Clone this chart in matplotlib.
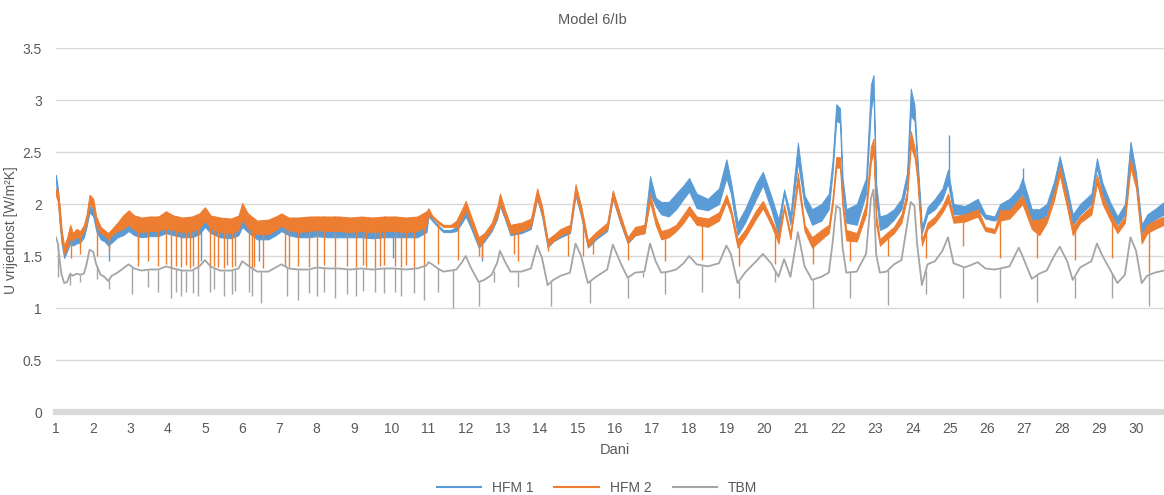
import matplotlib
matplotlib.use("Agg")
import matplotlib.pyplot as plt
from matplotlib.lines import Line2D
import numpy as np

plt.rcParams['font.family'] = ['Liberation Sans', 'DejaVu Sans']

# sample days (x axis "Dani")
days = [1.00, 1.05, 1.10, 1.15, 1.22, 1.30, 1.38, 1.45, 1.55, 1.65,
        1.75, 1.82, 1.90, 2.00, 2.08, 2.20, 2.30, 2.40, 2.50, 2.65,
        2.80, 2.95, 3.10, 3.30, 3.50, 3.75, 3.95, 4.15, 4.40, 4.65,
        4.85, 5.00, 5.15, 5.40, 5.70, 5.90, 6.00, 6.15, 6.40, 6.70,
        6.90, 7.05, 7.25, 7.50, 7.80, 8.00, 8.30, 8.60, 8.90, 9.20,
        9.50, 9.80, 10.10, 10.40, 10.70, 10.95, 11.00, 11.10, 11.25, 11.40,
        11.60, 11.75, 11.90, 12.00, 12.15, 12.35, 12.50, 12.70, 12.85, 12.92,
        13.05, 13.20, 13.50, 13.75, 13.92, 14.05, 14.20, 14.35, 14.55, 14.80,
        14.95, 15.10, 15.28, 15.50, 15.80, 15.95, 16.15, 16.35, 16.55, 16.80,
        16.95, 17.10, 17.25, 17.45, 17.65, 17.85, 18.00, 18.20, 18.50, 18.80,
        19.00, 19.12, 19.30, 19.50, 19.80, 19.98, 20.20, 20.40, 20.55, 20.72,
        20.92, 21.10, 21.30, 21.55, 21.75, 21.85, 21.95, 22.05, 22.12, 22.22,
        22.50, 22.75, 22.88, 22.95, 23.02, 23.12, 23.30, 23.50, 23.70, 23.85,
        23.95, 24.05, 24.12, 24.25, 24.40, 24.60, 24.80, 24.95, 25.10, 25.40,
        25.75, 25.95, 26.20, 26.35, 26.60, 26.85, 26.95, 27.20, 27.40, 27.60,
        27.80, 27.95, 28.15, 28.30, 28.50, 28.80, 28.95, 29.10, 29.30, 29.50,
        29.70, 29.85, 30.00, 30.15, 30.30, 30.50, 30.75]

# HFM 1 noise band (low / high)
hfm1_lo = [2.20, 2.05, 1.80, 1.62, 1.48, 1.55, 1.62, 1.60, 1.62, 1.63,
           1.68, 1.78, 1.92, 1.88, 1.74, 1.66, 1.64, 1.60, 1.63, 1.68,
           1.70, 1.74, 1.70, 1.68, 1.69, 1.69, 1.72, 1.70, 1.68, 1.68,
           1.71, 1.78, 1.72, 1.68, 1.67, 1.70, 1.78, 1.73, 1.66, 1.66,
           1.70, 1.74, 1.70, 1.68, 1.68, 1.69, 1.68, 1.68, 1.68, 1.68,
           1.67, 1.68, 1.68, 1.68, 1.68, 1.73, 1.88, 1.84, 1.78, 1.73,
           1.73, 1.74, 1.82, 1.88, 1.76, 1.58, 1.64, 1.74, 1.86, 1.98,
           1.86, 1.70, 1.72, 1.76, 2.05, 1.88, 1.58, 1.64, 1.68, 1.72,
           2.08, 1.88, 1.58, 1.66, 1.74, 2.05, 1.82, 1.62, 1.70, 1.72,
           2.10, 1.98, 1.90, 1.88, 1.95, 2.05, 2.12, 1.96, 1.94, 2.00,
           2.25, 2.10, 1.70, 1.82, 2.05, 2.18, 1.95, 1.70, 2.10, 1.80,
           2.40, 1.98, 1.80, 1.84, 1.95, 2.30, 2.80, 2.78, 2.10, 1.82,
           1.80, 2.10, 2.90, 3.05, 2.05, 1.75, 1.78, 1.85, 1.95, 2.20,
           2.85, 2.80, 2.40, 1.72, 1.90, 1.95, 2.05, 2.20, 1.90, 1.90,
           1.95, 1.86, 1.84, 1.88, 1.94, 2.05, 2.10, 1.85, 1.80, 1.90,
           2.12, 2.35, 2.05, 1.80, 1.90, 2.00, 2.35, 2.10, 1.92, 1.80,
           1.90, 2.45, 2.20, 1.72, 1.80, 1.85, 1.90]
hfm1_hi = [2.28, 2.15, 1.95, 1.72, 1.55, 1.62, 1.72, 1.66, 1.68, 1.68,
           1.75, 1.85, 1.98, 1.95, 1.80, 1.72, 1.70, 1.66, 1.70, 1.74,
           1.78, 1.82, 1.78, 1.75, 1.76, 1.76, 1.80, 1.77, 1.75, 1.76,
           1.79, 1.88, 1.80, 1.75, 1.74, 1.78, 1.88, 1.82, 1.74, 1.74,
           1.78, 1.82, 1.77, 1.75, 1.76, 1.77, 1.75, 1.76, 1.75, 1.76,
           1.75, 1.76, 1.76, 1.75, 1.76, 1.82, 1.93, 1.86, 1.80, 1.75,
           1.75, 1.78, 1.90, 1.95, 1.82, 1.63, 1.70, 1.80, 1.94, 2.06,
           1.92, 1.76, 1.78, 1.82, 2.12, 1.95, 1.64, 1.68, 1.74, 1.78,
           2.15, 1.95, 1.62, 1.70, 1.80, 2.12, 1.88, 1.66, 1.76, 1.80,
           2.27, 2.06, 2.02, 2.02, 2.10, 2.18, 2.25, 2.10, 2.05, 2.15,
           2.43, 2.22, 1.82, 1.95, 2.20, 2.31, 2.08, 1.85, 2.14, 1.90,
           2.59, 2.08, 1.95, 2.00, 2.10, 2.42, 2.96, 2.92, 2.25, 1.95,
           2.00, 2.25, 3.15, 3.24, 2.20, 1.88, 1.90, 1.95, 2.05, 2.30,
           3.11, 2.95, 2.50, 1.78, 1.97, 2.05, 2.15, 2.33, 2.00, 1.98,
           2.05, 1.90, 1.88, 2.00, 2.05, 2.15, 2.25, 1.95, 1.95, 2.00,
           2.22, 2.46, 2.15, 1.90, 2.00, 2.10, 2.44, 2.20, 2.02, 1.88,
           2.00, 2.60, 2.30, 1.80, 1.90, 1.95, 2.02]

# HFM 2 noise band (low / high)
hfm2_lo = [2.08, 2.02, 1.82, 1.65, 1.52, 1.58, 1.68, 1.65, 1.68, 1.68,
           1.74, 1.82, 2.00, 1.96, 1.80, 1.72, 1.70, 1.66, 1.70, 1.74,
           1.76, 1.80, 1.75, 1.73, 1.74, 1.74, 1.77, 1.75, 1.73, 1.74,
           1.77, 1.84, 1.77, 1.73, 1.72, 1.75, 1.85, 1.77, 1.71, 1.71,
           1.75, 1.79, 1.75, 1.73, 1.74, 1.75, 1.74, 1.74, 1.73, 1.74,
           1.73, 1.74, 1.74, 1.73, 1.74, 1.79, 1.90, 1.87, 1.82, 1.78,
           1.78, 1.78, 1.86, 1.94, 1.80, 1.60, 1.66, 1.76, 1.88, 2.00,
           1.88, 1.72, 1.74, 1.78, 2.06, 1.90, 1.60, 1.64, 1.70, 1.74,
           2.10, 1.90, 1.59, 1.68, 1.76, 2.06, 1.83, 1.63, 1.70, 1.72,
           2.02, 1.80, 1.66, 1.68, 1.74, 1.82, 1.90, 1.80, 1.78, 1.84,
           2.02, 1.90, 1.58, 1.68, 1.86, 1.96, 1.80, 1.62, 1.95, 1.66,
           2.20, 1.74, 1.58, 1.66, 1.72, 1.98, 2.35, 2.35, 1.95, 1.65,
           1.64, 1.90, 2.40, 2.50, 1.80, 1.60, 1.66, 1.72, 1.82, 2.05,
           2.55, 2.45, 2.25, 1.60, 1.76, 1.82, 1.92, 2.02, 1.82, 1.83,
           1.88, 1.74, 1.72, 1.84, 1.86, 1.96, 2.00, 1.76, 1.70, 1.82,
           2.04, 2.28, 1.96, 1.70, 1.82, 1.90, 2.20, 2.00, 1.85, 1.72,
           1.82, 2.35, 2.15, 1.62, 1.72, 1.76, 1.80]
hfm2_hi = [2.15, 2.12, 1.98, 1.75, 1.60, 1.68, 1.80, 1.72, 1.76, 1.74,
           1.80, 1.90, 2.09, 2.05, 1.88, 1.78, 1.75, 1.72, 1.76, 1.82,
           1.89, 1.94, 1.89, 1.87, 1.88, 1.88, 1.93, 1.89, 1.87, 1.88,
           1.91, 1.97, 1.89, 1.87, 1.86, 1.89, 2.01, 1.91, 1.84, 1.85,
           1.88, 1.91, 1.87, 1.87, 1.88, 1.88, 1.88, 1.88, 1.87, 1.88,
           1.87, 1.88, 1.88, 1.87, 1.88, 1.93, 1.96, 1.89, 1.84, 1.80,
           1.80, 1.84, 1.95, 2.03, 1.88, 1.68, 1.72, 1.82, 1.98, 2.10,
           1.95, 1.80, 1.82, 1.86, 2.15, 1.98, 1.66, 1.70, 1.76, 1.80,
           2.19, 1.98, 1.65, 1.73, 1.82, 2.13, 1.90, 1.68, 1.78, 1.80,
           2.10, 1.88, 1.74, 1.76, 1.80, 1.90, 1.98, 1.88, 1.86, 1.92,
           2.09, 1.96, 1.66, 1.75, 1.94, 2.03, 1.86, 1.70, 1.99, 1.72,
           2.30, 1.80, 1.68, 1.75, 1.80, 2.06, 2.45, 2.45, 2.02, 1.75,
           1.72, 2.00, 2.55, 2.63, 1.90, 1.66, 1.72, 1.78, 1.90, 2.12,
           2.70, 2.55, 2.35, 1.65, 1.82, 1.88, 1.98, 2.10, 1.88, 1.90,
           1.95, 1.78, 1.76, 1.94, 1.94, 2.04, 2.08, 1.84, 1.85, 1.88,
           2.12, 2.36, 2.04, 1.78, 1.88, 1.98, 2.28, 2.08, 1.92, 1.78,
           1.88, 2.43, 2.22, 1.70, 1.80, 1.84, 1.88]

# TBM
tbm = [1.68, 1.62, 1.45, 1.32, 1.24, 1.25, 1.33, 1.31, 1.33, 1.32,
       1.33, 1.42, 1.56, 1.54, 1.42, 1.32, 1.30, 1.26, 1.31, 1.34,
       1.38, 1.42, 1.38, 1.36, 1.37, 1.37, 1.40, 1.38, 1.36, 1.36,
       1.40, 1.46, 1.40, 1.36, 1.36, 1.38, 1.45, 1.41, 1.35, 1.35,
       1.39, 1.42, 1.38, 1.37, 1.37, 1.39, 1.38, 1.38, 1.37, 1.38,
       1.37, 1.38, 1.38, 1.37, 1.38, 1.41, 1.44, 1.42, 1.38, 1.35,
       1.36, 1.37, 1.44, 1.50, 1.38, 1.25, 1.27, 1.32, 1.44, 1.55,
       1.45, 1.35, 1.35, 1.38, 1.60, 1.48, 1.22, 1.27, 1.31, 1.34,
       1.62, 1.50, 1.24, 1.30, 1.37, 1.61, 1.44, 1.29, 1.34, 1.35,
       1.62, 1.45, 1.34, 1.35, 1.37, 1.43, 1.50, 1.42, 1.40, 1.43,
       1.60, 1.52, 1.24, 1.34, 1.45, 1.52, 1.43, 1.30, 1.47, 1.30,
       1.73, 1.40, 1.27, 1.30, 1.34, 1.62, 1.98, 1.96, 1.58, 1.34,
       1.35, 1.52, 2.05, 2.14, 1.52, 1.34, 1.35, 1.42, 1.46, 1.80,
       2.02, 1.98, 1.62, 1.22, 1.42, 1.45, 1.55, 1.68, 1.43, 1.39,
       1.44, 1.38, 1.37, 1.38, 1.40, 1.58, 1.50, 1.28, 1.33, 1.36,
       1.50, 1.59, 1.45, 1.27, 1.39, 1.45, 1.62, 1.50, 1.37, 1.24,
       1.32, 1.68, 1.55, 1.24, 1.31, 1.34, 1.36]

# short drops / jumps (day, value)
hfm2_spike_days = [1.40, 1.65, 2.10, 2.42, 3.20, 3.47, 3.73, 3.96, 4.10, 4.23,
                   4.36, 4.50, 4.60, 4.68, 4.82, 5.14, 5.23, 5.36, 5.50, 5.59,
                   5.72, 5.80, 6.17, 6.27, 6.32, 6.55, 7.16, 7.25, 7.50, 7.78,
                   8.00, 8.20, 8.50, 8.80, 9.05, 9.25, 9.32, 9.57, 9.70, 9.80,
                   10.10, 10.25, 10.40, 10.60, 10.87, 11.25, 11.80, 12.35, 12.45, 13.30,
                   13.40, 14.20, 14.74, 15.15, 15.43, 16.35, 17.34, 18.35, 19.33, 20.30,
                   21.33, 22.33, 23.35, 24.35, 25.35, 26.35, 27.35, 28.35, 29.35, 30.35]
hfm2_spike_vals = [1.48, 1.52, 1.50, 1.55, 1.40, 1.45, 1.40, 1.42, 1.38, 1.40,
                   1.39, 1.41, 1.38, 1.40, 1.39, 1.38, 1.40, 1.39, 1.38, 1.41,
                   1.39, 1.40, 1.40, 1.38, 1.39, 1.38, 1.40, 1.39, 1.40, 1.39,
                   1.40, 1.41, 1.39, 1.40, 1.39, 1.41, 1.39, 1.38, 1.40, 1.41,
                   1.40, 1.39, 1.41, 1.38, 1.39, 1.42, 1.46, 1.50, 1.48, 1.52,
                   1.45, 1.55, 1.50, 1.50, 1.52, 1.46, 1.45, 1.46, 1.40, 1.42,
                   1.42, 1.45, 1.50, 1.48, 1.60, 1.48, 1.48, 1.46, 1.48, 1.34]
tbm_spike_days = [1.05, 1.38, 1.65, 2.10, 2.42, 3.05, 3.47, 3.73, 4.10, 4.23,
                  4.36, 4.50, 4.68, 4.82, 5.14, 5.23, 5.50, 5.72, 5.80, 6.17,
                  6.27, 6.50, 7.20, 7.50, 7.78, 8.00, 8.20, 8.50, 8.80, 9.05,
                  9.25, 9.57, 9.80, 10.10, 10.25, 10.60, 10.87, 11.25, 11.65, 12.35,
                  12.75, 13.40, 14.30, 15.35, 16.35, 16.75, 17.34, 18.35, 19.33, 20.30,
                  21.33, 22.33, 23.35, 24.35, 25.35, 26.35, 27.35, 28.35, 29.35, 30.35]
tbm_spike_vals = [1.30, 1.22, 1.25, 1.28, 1.18, 1.13, 1.20, 1.15, 1.10, 1.15,
                  1.12, 1.15, 1.14, 1.12, 1.15, 1.18, 1.12, 1.13, 1.16, 1.15,
                  1.12, 1.05, 1.12, 1.08, 1.14, 1.12, 1.15, 1.10, 1.13, 1.12,
                  1.16, 1.15, 1.14, 1.15, 1.12, 1.14, 1.08, 1.15, 1.00, 1.02,
                  1.25, 1.20, 1.02, 1.05, 1.10, 1.30, 1.13, 1.15, 1.10, 1.25,
                  1.00, 1.10, 1.03, 1.13, 1.10, 1.10, 1.06, 1.10, 1.10, 1.02]
hfm1_spike_days = [2.42, 3.20, 4.90, 6.45, 10.05, 12.45, 24.97, 26.97]
hfm1_spike_vals = [1.45, 1.47, 1.45, 1.45, 1.48, 1.45, 2.66, 2.35]

c_hfm1 = '#5B9BD5'
c_hfm2 = '#ED7D31'
c_tbm = '#A5A5A5'
txt = '#595959'

fig = plt.figure(figsize=(11.64, 4.95), dpi=100)
ax = fig.add_axes([56 / 1164, 1 - 412 / 495, 1 - 56 / 1164, 364 / 495])

d = np.array(days)


def draw_band(lo, hi, color, spk_d, spk_v):
    ax.fill_between(d, lo, hi, color=color, linewidth=0.7, edgecolor=color, zorder=3)
    base = np.interp(spk_d, d, lo)
    top = np.interp(spk_d, d, hi)
    ax.vlines(spk_d, np.minimum(base, spk_v), np.maximum(top, spk_v),
              color=color, linewidth=1.0, zorder=3)


draw_band(hfm1_lo, hfm1_hi, c_hfm1, hfm1_spike_days, hfm1_spike_vals)
draw_band(hfm2_lo, hfm2_hi, c_hfm2, hfm2_spike_days, hfm2_spike_vals)
ax.plot(d, tbm, color=c_tbm, linewidth=1.3, zorder=4)
tb = np.interp(tbm_spike_days, d, tbm)
ax.vlines(tbm_spike_days, tbm_spike_vals, tb, color=c_tbm, linewidth=1.0, zorder=4)

ax.set_xlim(1, 30.75)
ax.set_ylim(0, 3.5)
ax.set_yticks(np.arange(0, 3.51, 0.5))
ax.set_yticklabels(['0', '0.5', '1', '1.5', '2', '2.5', '3', '3.5'])
ax.set_xticks(range(1, 31))
ax.grid(axis='y', color='#D9D9D9', linewidth=1.0, zorder=0)
for s in ['top', 'right', 'left']:
    ax.spines[s].set_visible(False)
ax.spines['bottom'].set_color('#D9D9D9')
ax.spines['bottom'].set_linewidth(4.5)
ax.spines['bottom'].set_zorder(5)
ax.tick_params(axis='both', length=0, labelsize=10, colors=txt)
ax.tick_params(axis='x', pad=7)
ax.tick_params(axis='y', pad=10)

ax.set_ylabel('U vrijednost [W/m²K]', fontsize=10, color=txt)
ax.yaxis.set_label_coords(-0.034, 0.5)
fig.text(592 / 1164, 1 - 20 / 495, 'Model 6/Ib', ha='center', va='center', fontsize=10.5, color=txt)
fig.text(615 / 1164, 1 - 450 / 495, 'Dani', ha='center', va='center', fontsize=10.5, color=txt)

handles = [Line2D([], [], color=c, linewidth=1.5) for c in (c_hfm1, c_hfm2, c_tbm)]
fig.legend(handles, ['HFM 1', 'HFM 2', 'TBM'], loc='center', ncol=3,
           bbox_to_anchor=(597 / 1164, 1 - 488 / 495), frameon=False,
           fontsize=10, handlelength=3.2, columnspacing=1.5, labelcolor=txt)

fig.savefig('out.png', dpi=100)
